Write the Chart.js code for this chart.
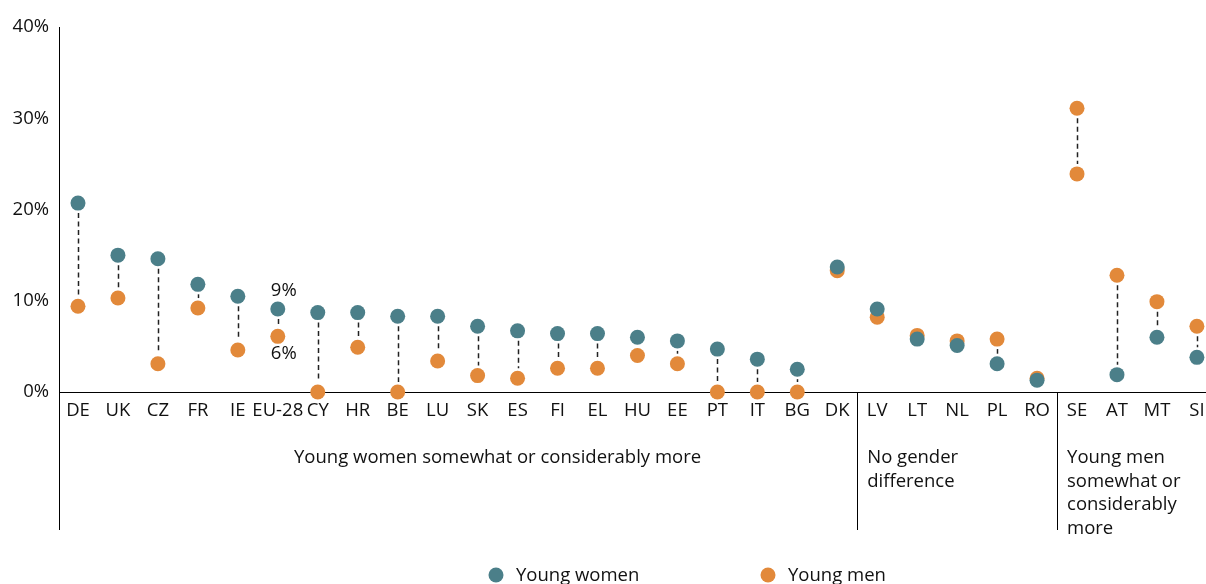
<!DOCTYPE html>
<html>
<head>
<meta charset="utf-8">
<script src="https://cdn.jsdelivr.net/npm/chart.js@4.4.0/dist/chart.umd.min.js"></script>
<style>
  html, body { margin: 0; padding: 0; background: #fff; }
  #wrap { width: 1206px; height: 584px; position: relative; }
</style>
</head>
<body>
<div id="wrap"><canvas id="chart"></canvas></div>
<script>
// countries, in the order shown
const countries = ['DE','UK','CZ','FR','IE','EU-28','CY','HR','BE','LU','SK','ES','FI','EL','HU','EE','PT','IT','BG','DK',
                   'LV','LT','NL','PL','RO','SE','AT','MT','SI'];
const youngWomen = [20.7,15.0,14.6,11.8,10.5,9.1,8.7,8.7,8.3,8.3,7.2,6.7,6.4,6.4,6.0,5.6,4.7,3.6,2.5,13.7,
                    9.1,5.8,5.1,3.1,1.3,23.9,1.9,6.0,3.8];
const youngMen   = [9.4,10.3,3.1,9.2,4.6,6.1,0,4.9,0,3.4,1.8,1.5,2.6,2.6,4.0,3.1,0,0,0,13.3,
                    8.2,6.2,5.6,5.8,1.5,31.1,12.8,9.9,7.2];
const yTicks = [0, 10, 20, 30, 40];
// groups: [label lines, first index, last index]
const groups = [
  [['Young women somewhat or considerably more'], 0, 19],
  [['No gender', 'difference'], 20, 24],
  [['Young men', 'somewhat or', 'considerably', 'more'], 25, 28]
];
const euIndex = 5;

const teal = '#4b7f89';
const orange = '#e2893a';
const FONT = '"Open Sans", sans-serif';
const FS = 18.5;

// SE women dot appears orange in the original
const womenColors = countries.map(c => c === 'SE' ? orange : teal);

const connectors = {
  id: 'connectors',
  beforeDatasetsDraw(chart) {
    const ctx = chart.ctx, x = chart.scales.x, y = chart.scales.y;
    ctx.save();
    ctx.strokeStyle = '#222';
    ctx.lineWidth = 1.5;
    ctx.setLineDash([5, 3.5]);
    for (let i = 0; i < countries.length; i++) {
      const px = Math.round(x.getPixelForValue(i)) + 0.5;
      let a = y.getPixelForValue(youngWomen[i]), b = y.getPixelForValue(youngMen[i]);
      if (a > b) [a, b] = [b, a];
      if (b - a < 20) continue;
      ctx.beginPath();
      ctx.moveTo(px, a + 10);
      ctx.lineTo(px, b - 10);
      ctx.stroke();
    }
    ctx.restore();
  },
  afterDraw(chart) {
    const ctx = chart.ctx, x = chart.scales.x, y = chart.scales.y;
    const area = chart.chartArea;
    ctx.save();
    ctx.strokeStyle = '#000';
    ctx.lineWidth = 1;
    // x axis runs to the right edge; y axis and group separators run down
    ctx.beginPath();
    ctx.moveTo(area.right, area.bottom + 0.5);
    ctx.lineTo(chart.width, area.bottom + 0.5);
    ctx.moveTo(area.left + 0.5, area.bottom);
    ctx.lineTo(area.left + 0.5, 530);
    groups.slice(1).forEach(g => {
      const sx = Math.round(x.getPixelForValue(g[1] - 0.5)) + 0.5;
      ctx.moveTo(sx, area.bottom);
      ctx.lineTo(sx, 530);
    });
    ctx.stroke();

    ctx.fillStyle = '#111';
    ctx.font = FS + 'px ' + FONT;
    ctx.textBaseline = 'middle';
    groups.forEach((g, k) => {
      if (k === 0) {
        ctx.textAlign = 'center';
        const cx = x.getPixelForValue(10.5);
        ctx.fillText(g[0][0], cx, 458);
      } else {
        ctx.textAlign = 'left';
        const lx = x.getPixelForValue(g[1] - 0.5) + 10;
        g[0].forEach((line, j) => ctx.fillText(line, lx, 458 + j * 23.5));
      }
    });

    // EU-28 value labels
    const ex = x.getPixelForValue(euIndex) + 6;
    ctx.textAlign = 'center';
    ctx.fillText(Math.round(youngWomen[euIndex]) + '%', ex, y.getPixelForValue(youngWomen[euIndex]) - 18);
    ctx.fillText(Math.round(youngMen[euIndex]) + '%', ex, y.getPixelForValue(youngMen[euIndex]) + 17);

    // legend
    const items = chart.data.datasets.map(d => [d.label, d.legendColor]);
    const lx = [496, 768];
    items.forEach((it, j) => {
      ctx.fillStyle = it[1];
      ctx.beginPath();
      ctx.arc(lx[j], 575, 7.5, 0, Math.PI * 2);
      ctx.fill();
      ctx.fillStyle = '#111';
      ctx.textAlign = 'left';
      ctx.fillText(it[0], lx[j] + 20, 576);
    });
    ctx.restore();
  }
};

new Chart(document.getElementById('chart'), {
  type: 'scatter',
  data: {
    datasets: [
      {
        label: 'Young women',
        legendColor: teal,
        data: youngWomen.map((v, i) => ({x: i, y: v})),
        backgroundColor: womenColors,
        borderWidth: 0,
        pointRadius: 7.5,
        pointHoverRadius: 7.5,
        clip: false
      },
      {
        label: 'Young men',
        legendColor: orange,
        data: youngMen.map((v, i) => ({x: i, y: v})),
        backgroundColor: orange,
        borderWidth: 0,
        pointRadius: 7.5,
        pointHoverRadius: 7.5,
        clip: false
      }
    ]
  },
  options: {
    responsive: true,
    maintainAspectRatio: false,
    animation: false,
    layout: { padding: { top: 27, right: 0, left: 0, bottom: 0 } },
    plugins: { legend: { display: false }, tooltip: { enabled: false } },
    scales: {
      x: {
        type: 'linear',
        min: -0.475,
        max: 28.04,
        afterBuildTicks: s => { s.ticks = countries.map((c, i) => ({value: i})); },
        afterFit: s => { s.height = 192; s.paddingLeft = 0; s.paddingRight = 0; },
        grid: { display: false, drawTicks: false },
        border: { color: '#000', width: 1 },
        ticks: {
          autoSkip: false,
          maxRotation: 0,
          padding: 8,
          color: '#111',
          font: { family: FONT, size: FS },
          callback: v => countries[v]
        }
      },
      y: {
        min: 0,
        max: 40,
        afterBuildTicks: s => { s.ticks = yTicks.map(v => ({value: v})); },
        afterFit: s => { s.width = 59; },
        grid: { display: false, drawTicks: false },
        border: { color: '#000', width: 1 },
        ticks: {
          padding: 10,
          color: '#111',
          font: { family: FONT, size: FS },
          callback: v => v + '%'
        }
      }
    }
  },
  plugins: [connectors]
});
</script>
</body>
</html>
